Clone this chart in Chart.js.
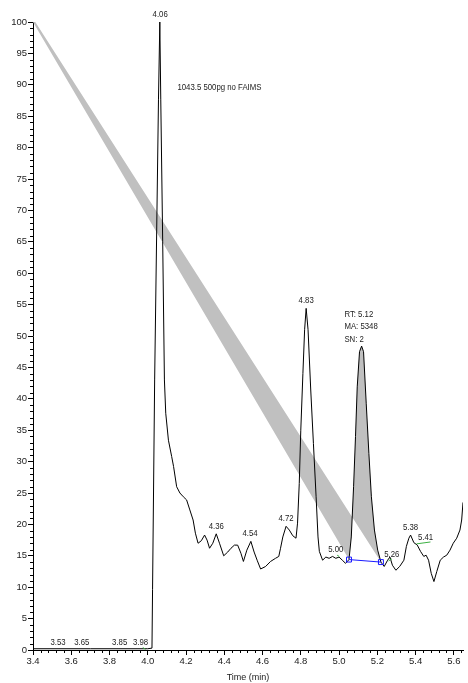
<!DOCTYPE html>
<html>
<head>
<meta charset="utf-8">
<script src="https://cdn.jsdelivr.net/npm/chart.js@4.4.1/dist/chart.umd.min.js"></script>
<style>
  html, body { margin: 0; padding: 0; background: #fff; }
  #wrap { width: 468px; height: 683px; }
</style>
</head>
<body>
<div id="wrap"><canvas id="myChart" width="468" height="683"></canvas></div>
<script>
// chromatogram trace, time (min) vs relative abundance
const times = [3.40, 3.70, 4.00, 4.022, 4.025, 4.036, 4.056, 4.063, 4.068, 4.078, 4.087, 4.094, 4.108, 4.125, 4.135,
  4.151, 4.168, 4.186, 4.203, 4.220, 4.237, 4.249, 4.263, 4.280, 4.297, 4.310, 4.323, 4.340, 4.358, 4.375,
  4.397, 4.418, 4.435, 4.453, 4.470, 4.487, 4.500, 4.518, 4.539, 4.556, 4.573, 4.590, 4.616, 4.642, 4.668,
  4.685, 4.694, 4.706, 4.723, 4.740, 4.758, 4.775, 4.783, 4.792, 4.800, 4.811, 4.820, 4.828, 4.838, 4.852,
  4.866, 4.880, 4.890, 4.897, 4.914, 4.931, 4.948, 4.966, 4.983, 5.000, 5.017, 5.034, 5.052, 5.064, 5.076,
  5.086, 5.095, 5.107, 5.118, 5.128, 5.142, 5.156, 5.169, 5.185, 5.202, 5.219, 5.236, 5.254, 5.266, 5.279,
  5.297, 5.317, 5.339, 5.352, 5.365, 5.374, 5.391, 5.409, 5.426, 5.443, 5.455, 5.468, 5.482, 5.496, 5.511,
  5.529, 5.546, 5.563, 5.580, 5.597, 5.615, 5.632, 5.641, 5.648];
const abundance = [0.2, 0.2, 0.2, 0.3, 9.6, 43, 87.6, 100, 87.6, 65, 43, 37.7, 33.4, 30.8, 29.2,
  26.0, 25.0, 24.4, 23.9, 22.3, 20.7, 18.6, 17.0, 17.4, 18.3, 17.5, 16.2, 17.0, 18.5, 17.0,
  15.0, 15.6, 16.2, 16.7, 16.7, 15.4, 14.1, 15.9, 17.3, 15.6, 14.2, 12.9, 13.3, 14.1, 14.6,
  14.9, 16.2, 18.0, 19.7, 19.1, 18.2, 17.8, 20.2, 26.5, 35, 44, 51, 54.4, 51, 41.4,
  32.9, 24.4, 18.0, 15.7, 14.3, 14.8, 14.6, 14.9, 14.6, 14.8, 14.3, 13.8, 14.4, 18, 26,
  34, 41.9, 47.5, 48.4, 47.5, 39.3, 31.3, 24.4, 19.1, 15.9, 14.0, 13.3, 14.3, 14.8, 13.5,
  12.7, 13.3, 14.3, 16.5, 17.8, 18.3, 17.1, 16.7, 15.7, 14.9, 15.1, 14.3, 12.2, 10.9, 12.5,
  14.3, 14.8, 15.1, 15.9, 17.0, 17.8, 19.1, 20.7, 23.5];

// integrated peak (RT 5.12): start / end of baseline
const peakStart = 5.052, peakEnd = 5.219;
const baseTimes = [5.052, 5.219];
const baseValues = [14.4, 14.0];
// the odd grey wedge drawn from the top-left corner
const bandApexTimes = [3.4, 3.412];
const bandApexValues = [100, 100];

// peak labels
const peakLabels = ['3.53', '3.65', '3.85', '3.98', '4.06', '4.36', '4.54', '4.72', '4.83', '5.00', '5.26', '5.38', '5.41'];
const peakLabelX = [3.531, 3.655, 3.853, 3.962, 4.065, 4.358, 4.535, 4.723, 4.828, 4.983, 5.276, 5.374, 5.452];
const peakLabelY = [0, 0, 0, 0, 100, 18.5, 17.3, 19.7, 54.4, 14.8, 14.0, 18.3, 16.7];

// small green marks next to some labels
const greenMarks = [
  [[3.974, 0.4], [3.988, 0.1]],
  [[4.990, 15.1], [5.001, 14.9]],
  [[5.259, 14.2], [5.276, 14.5]],
  [[5.405, 16.9], [5.478, 17.2]]
];

const infoLines = ['RT: 5.12', 'MA: 5348', 'SN: 2'];
const infoPos = [5.028, 53.5];
const sampleName = '1043.5 500pg no FAIMS';
const samplePos = [4.155, 89.6];

const xTicks = { min: 3.4, max: 5.648, step: 0.2, minor: 0.04 };
const yTicks = { min: 0, max: 100, step: 5, minor: 1 };

const FONT = "'Liberation Sans', Arial, sans-serif";
const NARROW = 0.82; // reference uses a narrow face, squeeze our own labels

const trace = times.map((t, i) => ({ x: t, y: abundance[i] }));

const datasets = [{
  data: trace,
  showLine: true,
  borderColor: '#000',
  borderWidth: 1,
  pointRadius: 0,
  order: 1
}, {
  data: baseTimes.map((t, i) => ({ x: t, y: baseValues[i] })),
  showLine: true,
  borderColor: '#1a1aff',
  borderWidth: 1,
  pointStyle: 'rect',
  pointRadius: 3.5,
  pointBorderColor: '#1a1aff',
  pointBackgroundColor: 'rgba(0,0,0,0)',
  pointBorderWidth: 1,
  order: 0
}];
greenMarks.forEach(m => datasets.push({
  data: m.map(p => ({ x: p[0], y: p[1] })),
  showLine: true,
  borderColor: '#3cb043',
  borderWidth: 1,
  pointRadius: 0
}));

// grey area under the integrated peak, plus the wedge to the corner
const areaPlugin = {
  id: 'area',
  beforeDatasetsDraw(chart) {
    const { ctx, scales: { x, y } } = chart;
    ctx.save();
    ctx.beginPath();
    ctx.moveTo(x.getPixelForValue(bandApexTimes[0]), y.getPixelForValue(bandApexValues[0]));
    ctx.lineTo(x.getPixelForValue(baseTimes[0]), y.getPixelForValue(baseValues[0]));
    for (let i = 0; i < times.length; i++) {
      if (times[i] > peakStart && times[i] < peakEnd) {
        ctx.lineTo(x.getPixelForValue(times[i]), y.getPixelForValue(abundance[i]));
      }
    }
    ctx.lineTo(x.getPixelForValue(baseTimes[1]), y.getPixelForValue(baseValues[1]));
    ctx.lineTo(x.getPixelForValue(bandApexTimes[1]), y.getPixelForValue(bandApexValues[1]));
    ctx.closePath();
    ctx.fillStyle = '#c0c0c0';
    ctx.fill();
    ctx.restore();
  }
};

function narrowText(ctx, s, px, py, align) {
  ctx.save();
  ctx.translate(px, py);
  ctx.scale(NARROW, 1);
  ctx.textAlign = align;
  ctx.fillText(s, 0, 0);
  ctx.restore();
}

const labelPlugin = {
  id: 'labels',
  afterDatasetsDraw(chart) {
    const { ctx, scales: { x, y } } = chart;
    ctx.save();
    ctx.font = '9.5px ' + FONT;
    ctx.fillStyle = '#222';
    ctx.textBaseline = 'middle';
    for (let i = 0; i < peakLabels.length; i++) {
      narrowText(ctx, peakLabels[i], x.getPixelForValue(peakLabelX[i]), y.getPixelForValue(peakLabelY[i]) - 7.5, 'center');
    }
    const ix = x.getPixelForValue(infoPos[0]);
    const iy = y.getPixelForValue(infoPos[1]);
    infoLines.forEach((s, i) => narrowText(ctx, s, ix, iy + i * 12.5, 'left'));
    narrowText(ctx, sampleName, x.getPixelForValue(samplePos[0]), y.getPixelForValue(samplePos[1]), 'left');
    ctx.restore();
  }
};

// minor tick marks on both axes
const minorTicks = {
  id: 'minorTicks',
  afterDraw(chart) {
    const { ctx, chartArea, scales: { x, y } } = chart;
    ctx.save();
    ctx.strokeStyle = '#000';
    ctx.lineWidth = 1;
    ctx.beginPath();
    const nx = Math.round((xTicks.max - xTicks.min) / xTicks.minor);
    for (let k = 0; k <= nx; k++) {
      if (k % 5 === 0) continue;
      const px = Math.round(x.getPixelForValue(xTicks.min + k * xTicks.minor)) + 0.5;
      ctx.moveTo(px, chartArea.bottom);
      ctx.lineTo(px, chartArea.bottom + 3);
    }
    for (let v = yTicks.min; v <= yTicks.max; v += yTicks.minor) {
      if (v % yTicks.step === 0) continue;
      const py = Math.round(y.getPixelForValue(v)) + 0.5;
      ctx.moveTo(chartArea.left - 3, py);
      ctx.lineTo(chartArea.left, py);
    }
    ctx.stroke();
    ctx.restore();
  }
};

const ctx = document.getElementById('myChart').getContext('2d');
const myChart = new Chart(ctx, {
  type: 'scatter',
  data: { datasets: datasets },
  options: {
    responsive: false,
    animation: false,
    layout: { padding: { top: 22, right: 0, left: 0, bottom: 0 } },
    plugins: { legend: { display: false }, tooltip: { enabled: false } },
    elements: { line: { tension: 0 } },
    scales: {
      x: {
        type: 'linear',
        min: xTicks.min,
        max: xTicks.max,
        afterFit(s) { s.height = 33; },
        border: { display: true, color: '#000', width: 1 },
        grid: { drawOnChartArea: false, drawTicks: true, tickLength: 5, color: '#000' },
        ticks: {
          stepSize: xTicks.step,
          includeBounds: false,
          autoSkip: false,
          maxRotation: 0,
          padding: 1,
          color: '#222',
          font: { family: FONT, size: 9.5 },
          callback: v => Number(v).toFixed(1)
        },
        title: { display: true, text: 'Time (min)', padding: 0, color: '#222', font: { family: FONT, size: 9 } }
      },
      y: {
        min: yTicks.min,
        max: yTicks.max,
        afterFit(s) { s.width = 33; },
        border: { display: true, color: '#000', width: 1 },
        grid: { drawOnChartArea: false, drawTicks: true, tickLength: 5, color: '#000' },
        ticks: {
          stepSize: yTicks.step,
          padding: 1,
          color: '#222',
          font: { family: FONT, size: 9.5 }
        }
      }
    }
  },
  plugins: [areaPlugin, labelPlugin, minorTicks]
});
</script>
</body>
</html>
